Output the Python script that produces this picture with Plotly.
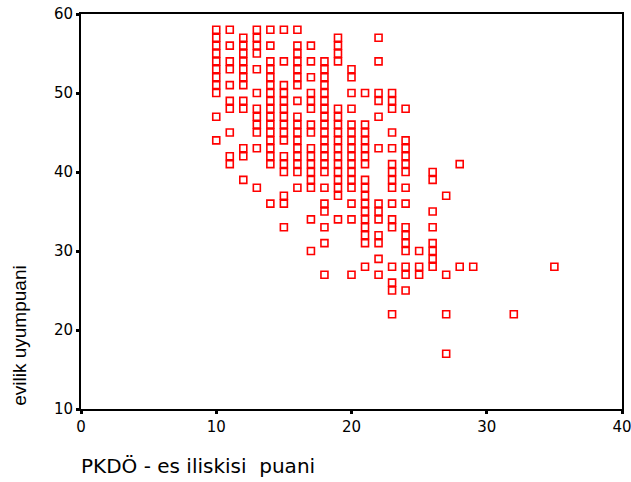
import plotly.graph_objects as go

# PKDÖ - es iliskisi puani (x) and evilik uyum puani (y), grouped by x value
col_x = [10, 11, 12, 13, 14, 15, 16, 17, 18, 19, 20, 21, 22, 23, 24, 25, 26, 27, 28, 29, 32, 35]
col_y = [
    [58, 57, 56, 55, 54, 53, 52, 51, 50, 47, 44],
    [58, 56, 54, 53, 51, 49, 48, 45, 42, 41],
    [57, 56, 55, 54, 53, 52, 51, 49, 48, 43, 42, 39],
    [58, 57, 56, 55, 53, 50, 48, 47, 46, 45, 43, 38],
    [58, 56, 54, 53, 52, 51, 50, 49, 48, 47, 46, 45, 44, 43, 42, 41, 36],
    [58, 54, 51, 50, 49, 48, 47, 46, 45, 44, 42, 41, 40, 37, 36, 33],
    [58, 56, 55, 54, 53, 52, 51, 49, 47, 46, 45, 44, 43, 42, 41, 40, 38],
    [56, 54, 52, 50, 49, 48, 46, 45, 43, 42, 41, 40, 39, 38, 34, 30],
    [54, 53, 52, 51, 50, 49, 48, 47, 46, 45, 44, 43, 42, 41, 40, 38, 36, 35, 33, 31, 27],
    [57, 56, 55, 54, 48, 47, 46, 45, 44, 43, 42, 41, 40, 39, 38, 37, 34],
    [53, 52, 50, 48, 46, 45, 44, 43, 42, 41, 40, 39, 38, 36, 34, 27],
    [50, 46, 45, 44, 43, 42, 41, 39, 38, 37, 36, 35, 34, 33, 32, 31, 28],
    [57, 54, 50, 49, 47, 43, 36, 35, 34, 32, 31, 29, 27],
    [50, 49, 48, 45, 43, 41, 40, 39, 38, 36, 34, 33, 28, 26, 25, 22],
    [48, 44, 43, 42, 41, 40, 38, 36, 33, 32, 31, 30, 28, 27, 25],
    [30, 28, 27],
    [40, 39, 35, 33, 31, 30, 29, 28],
    [37, 27, 22, 17],
    [41, 28],
    [28],
    [22],
    [28],
]

x_ticks = [0, 10, 20, 30, 40]
y_ticks = [10, 20, 30, 40, 50, 60]

xs, ys = [], []
for cx, cys in zip(col_x, col_y):
    for cy in cys:
        xs.append(cx)
        ys.append(cy)

fig = go.Figure()
fig.add_trace(go.Scatter(
    x=xs, y=ys, mode="markers",
    marker=dict(symbol="square-open", size=7, color="#ff0000",
                line=dict(width=1.6, color="#ff0000")),
    showlegend=False, hoverinfo="skip",
))

wide_font = "DejaVu Sans, Verdana, sans-serif"
narrow_font = "Liberation Sans, Arial, sans-serif"
fig.update_layout(
    width=631, height=482,
    margin=dict(l=81, r=9, t=14, b=73),
    paper_bgcolor="white", plot_bgcolor="white",
    font=dict(family=wide_font, color="black", size=15),
    xaxis=dict(range=[0, 40], tickvals=x_ticks, showgrid=False, zeroline=False,
               showline=True, linecolor="black", linewidth=2, mirror=True,
               ticks="outside", ticklen=3, tickwidth=3, tickcolor="black",
               tickfont=dict(size=15, family=wide_font), automargin=False,
               ticklabeloverflow="allow"),
    yaxis=dict(range=[10, 60], tickvals=y_ticks, showgrid=False, zeroline=False,
               showline=True, linecolor="black", linewidth=2, mirror=True,
               ticks="outside", ticklen=3, tickwidth=3, tickcolor="black",
               tickfont=dict(size=15, family=wide_font), automargin=False,
               ticklabeloverflow="allow"),
    annotations=[
        dict(text="PKDÖ - es iliskisi  puani", xref="paper", yref="paper",
             x=-0.003, y=-0.11, xanchor="left", yanchor="top", showarrow=False,
             font=dict(size=20, family=wide_font)),
        dict(text="evilik uyumpuani", xref="paper", yref="paper",
             x=-0.113, y=0.185, xanchor="center", yanchor="middle", textangle=-90,
             showarrow=False, font=dict(size=19, family=narrow_font)),
    ],
)

fig.write_html("out.html", config={"displayModeBar": False},
               post_script="document.body.style.margin='0px';")
